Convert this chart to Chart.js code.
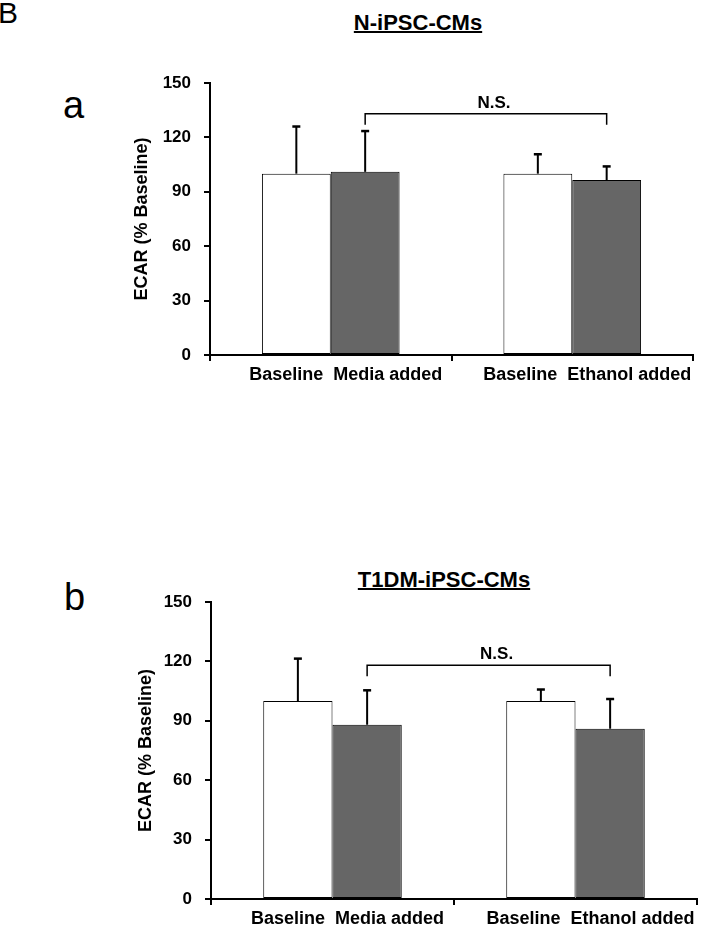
<!DOCTYPE html>
<html>
<head>
<meta charset="utf-8">
<script src="https://cdn.jsdelivr.net/npm/chart.js@4/dist/chart.umd.min.js"></script>
<style>
  body { margin: 0; background: #fff; }
  #wrap { position: relative; width: 703px; height: 930px; overflow: hidden; font-family: "Liberation Sans", Arial, sans-serif; color: #000; }
  canvas { position: absolute; left: 0; }
  .lbl { position: absolute; white-space: nowrap; line-height: 1; }
  .ttl { font-weight: bold; font-size: 22px; text-decoration: underline; text-decoration-thickness: 2px; transform: translateX(-50%); }
</style>
</head>
<body>
<div id="wrap">
  <div class="lbl" style="left:-2px; top:-2px; font-size:30px;">B</div>
  <div class="lbl ttl" style="left:418px; top:12px; line-height:22px;">N-iPSC-CMs</div>
  <div class="lbl" style="left:63px; top:86px; font-size:38px; line-height:38px;">a</div>
  <canvas id="chartA" width="703" height="420" style="top:0px"></canvas>

  <div class="lbl ttl" style="left:444px; top:569px; line-height:22px;">T1DM-iPSC-CMs</div>
  <div class="lbl" style="left:64px; top:578px; font-size:38px; line-height:38px;">b</div>
  <canvas id="chartB" width="703" height="410" style="top:520px"></canvas>
</div>
<script>
// group labels (one per group, bar names under each bar)
var groupsA = ['Baseline  Media added', 'Baseline  Ethanol added'];
var groupsB = ['Baseline  Media added', 'Baseline  Ethanol added'];
var yTicks = [0, 30, 60, 90, 120, 150];

// panel a  (N-iPSC-CMs)
var baselineA = [100, 100];
var treatedA = [101, 96.5];
var baselineSdA = [26, 10.7];
var treatedSdA = [22.5, 7.5];
var bracketA = [133, 127];   // bracket level, leg end

// panel b  (T1DM-iPSC-CMs)
var baselineB = [100, 100];
var treatedB = [88, 86];
var baselineSdB = [21.4, 5.8];
var treatedSdB = [17.4, 15];
var bracketB = [118, 112.5];

Chart.defaults.font.family = '"Liberation Sans", Arial, sans-serif';
Chart.defaults.color = '#000';

// upward error bars + N.S. bracket
var extras = {
  id: 'extras',
  afterDatasetsDraw: function(chart, args, opts) {
    var ctx = chart.ctx;
    var ys = chart.scales.y;
    ctx.save();
    ctx.strokeStyle = '#000';
    chart.data.datasets.forEach(function(ds, i) {
      var meta = chart.getDatasetMeta(i);
      meta.data.forEach(function(bar, j) {
        var top = ys.getPixelForValue(ds.data[j] + ds.sd[j]);
        ctx.lineWidth = 2;
        ctx.beginPath();
        ctx.moveTo(bar.x, bar.y);
        ctx.lineTo(bar.x, top);
        ctx.stroke();
        ctx.lineWidth = 2.5;
        ctx.beginPath();
        ctx.moveTo(bar.x - 4, top);
        ctx.lineTo(bar.x + 4, top);
        ctx.stroke();
      });
    });
    var g = chart.getDatasetMeta(1).data;
    var x1 = g[0].x, x2 = g[1].x;
    var yl = ys.getPixelForValue(opts.bracket[0]);
    var ye = ys.getPixelForValue(opts.bracket[1]);
    ctx.lineWidth = 1.5;
    ctx.beginPath();
    ctx.moveTo(x1, ye);
    ctx.lineTo(x1, yl);
    ctx.lineTo(x2, yl);
    ctx.lineTo(x2, ye);
    ctx.stroke();
    ctx.fillStyle = '#000';
    ctx.font = 'bold 17px "Liberation Sans", Arial, sans-serif';
    ctx.textAlign = 'center';
    ctx.textBaseline = 'middle';
    ctx.fillText('N.S.', (x1 + x2) / 2 + 8, yl - 11);
    ctx.restore();
  }
};

function makeChart(id, labels, base, treat, baseSd, treatSd, bracket, pad, yW, xH, titlePad) {
  var ctx = document.getElementById(id).getContext('2d');
  return new Chart(ctx, {
    type: 'bar',
    data: {
      labels: labels,
      datasets: [{
        label: 'Baseline',
        data: base,
        sd: baseSd,
        backgroundColor: '#ffffff',
        borderColor: '#000',
        borderWidth: 1,
        borderSkipped: false
      }, {
        label: 'Treated',
        data: treat,
        sd: treatSd,
        backgroundColor: '#666666',
        borderColor: '#000',
        borderWidth: 1,
        borderSkipped: false
      }]
    },
    options: {
      responsive: false,
      animation: false,
      devicePixelRatio: 1,
      layout: { padding: pad },
      datasets: { bar: { barPercentage: 1, categoryPercentage: 0.57 } },
      plugins: {
        legend: { display: false },
        tooltip: { enabled: false },
        extras: { bracket: bracket }
      },
      scales: {
        x: {
          afterFit: function(s) { s.height = xH; },
          grid: { drawOnChartArea: false, drawTicks: true, tickLength: 6, color: '#000', lineWidth: 2, offset: true },
          border: { display: true, color: '#000', width: 2 },
          ticks: { font: { size: 18, weight: 'bold' }, color: '#000', padding: 3, labelOffset: 15, maxRotation: 0, autoSkip: false }
        },
        y: {
          min: 0,
          max: 150,
          afterFit: function(s) { s.width = yW; },
          afterBuildTicks: function(s) { s.ticks = yTicks.map(function(v) { return { value: v }; }); },
          grid: { drawOnChartArea: false, drawTicks: true, tickLength: 6, color: '#000', lineWidth: 2 },
          border: { display: true, color: '#000', width: 2 },
          ticks: { font: { size: 17, weight: 'bold' }, color: '#000', padding: 13 },
          title: { display: true, text: 'ECAR (% Baseline)', font: { size: 18, weight: 'bold' }, color: '#000', padding: { top: titlePad, bottom: 0 } }
        }
      }
    },
    plugins: [extras]
  });
}

makeChart('chartA', groupsA, baselineA, treatedA, baselineSdA, treatedSdA, bracketA,
  { top: 83, left: 100, right: 10, bottom: 20 }, 110, 45, 31);
makeChart('chartB', groupsB, baselineB, treatedB, baselineSdB, treatedSdB, bracketB,
  { top: 82, left: 101, right: 6, bottom: 0 }, 110, 31, 34);
</script>
</body>
</html>
